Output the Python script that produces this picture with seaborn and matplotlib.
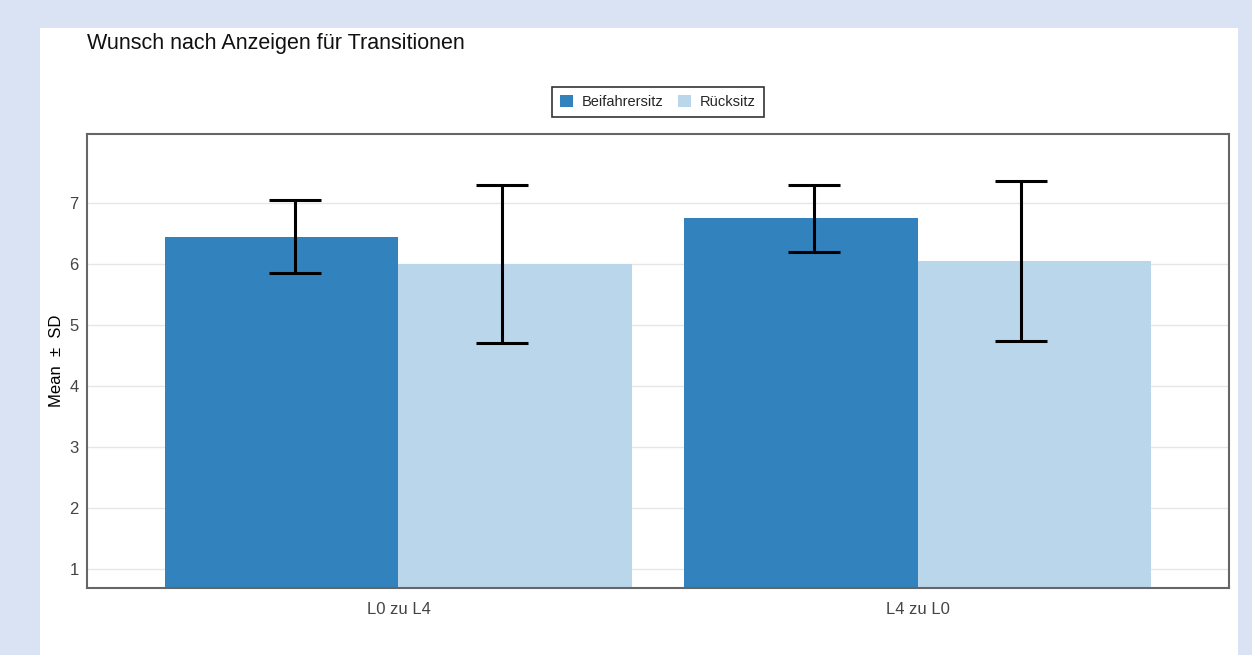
import numpy as np
import pandas as pd
import matplotlib.pyplot as plt
import seaborn as sns
from matplotlib.patches import Rectangle

sns.set_theme(style="white")
plt.rcParams['font.family'] = ['Liberation Sans', 'DejaVu Sans']

# data
categories = ["L0 zu L4", "L4 zu L0"]
seats = ["Beifahrersitz", "Rücksitz"]
means_front = [6.45, 6.75]
sd_front = [0.60, 0.55]
means_back = [6.00, 6.05]
sd_back = [1.30, 1.31]

df = pd.DataFrame({
    "Transition": categories * 2,
    "Sitz": [seats[0]] * 2 + [seats[1]] * 2,
    "mean": means_front + means_back,
    "sd": sd_front + sd_back,
})

colors = {"Beifahrersitz": "#3182bd", "Rücksitz": "#bad6eb"}

fig = plt.figure(figsize=(12.52, 6.55), dpi=100)
fig.patch.set_facecolor("#dae3f3")
# white card behind the chart
fig.patches.append(Rectangle((40 / 1252, 0), 1198 / 1252, 1 - 28 / 655,
                             transform=fig.transFigure, facecolor="white",
                             edgecolor="none", zorder=-10))

ax = fig.add_axes([87 / 1252, 1 - 588 / 655, 1142 / 1252, 454 / 655])
sns.barplot(data=df, x="Transition", y="mean", hue="Sitz", hue_order=seats,
            palette=colors, errorbar=None, width=0.9, saturation=1,
            linewidth=0, ax=ax)

# error bars: in the original they sit closer to the group centre than the bars
offsets = {"Beifahrersitz": -0.2, "Rücksitz": 0.2}
for seat in seats:
    sub = df[df["Sitz"] == seat]
    xs = np.arange(len(categories)) + offsets[seat]
    ax.errorbar(xs, sub["mean"], yerr=sub["sd"], fmt="none", ecolor="black",
                elinewidth=2.2, capsize=18.7, capthick=2.2, zorder=5)

ax.set_xlim(-0.6, 1.6)
ax.set_ylim(0.69, 8.13)
ax.set_yticks(range(1, 8))
ax.yaxis.grid(True, color="#e6e6e6", linewidth=1)
ax.set_axisbelow(True)
ax.set_xlabel("")
ax.set_ylabel("Mean  ±  SD", fontsize=12, color="black")
ax.tick_params(axis="both", labelsize=12, colors="#444444", length=0, pad=6)
ax.tick_params(axis="x", length=4, color="#bbbbbb")
for s in ax.spines.values():
    s.set_color("#666666")
    s.set_linewidth(1.5)

leg = ax.legend(loc="center", bbox_to_anchor=(0.5, 1.07), ncol=2, frameon=True,
                fancybox=False, fontsize=10.5, handlelength=0.9, handleheight=0.9,
                columnspacing=1.0, handletextpad=0.6, borderpad=0.55)
leg.get_frame().set_edgecolor("black")
leg.get_frame().set_linewidth(1.2)

fig.text(87 / 1252, 1 - 44 / 655, "Wunsch nach Anzeigen für Transitionen",
         fontsize=15.5, color="#111111", va="center", ha="left")

fig.savefig("out.png", dpi=100)
